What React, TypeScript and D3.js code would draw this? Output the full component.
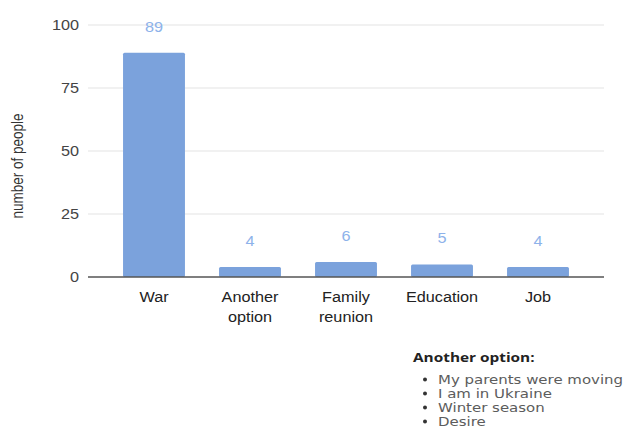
import React from "react";
import * as d3 from "d3";

const categories: string[][] = [["War"], ["Another", "option"], ["Family", "reunion"], ["Education"], ["Job"]];
const values: number[] = [89, 4, 6, 5, 4];
const yTicks: number[] = [0, 25, 50, 75, 100];
const noteTitle = "Another option:";
const noteItems: string[] = ["My parents were moving", "I am in Ukraine", "Winter season", "Desire"];
const yAxisTitle = "number of people";

const W = 625;
const H = 428;
const SX = 1.16;

function T(props: {
  x: number;
  y: number;
  anchor?: "start" | "middle" | "end";
  size: number;
  fill: string;
  sx?: number;
  weight?: number;
  family?: string;
  children: React.ReactNode;
}) {
  const { x, y, anchor = "start", size, fill, sx = SX, weight, family, children } = props;
  return (
    <text
      transform={`translate(${x},${y}) scale(${sx},1)`}
      x={0}
      y={0}
      dy="0.35em"
      textAnchor={anchor}
      fontSize={size}
      fill={fill}
      fontWeight={weight}
      fontFamily={family}
    >
      {children}
    </text>
  );
}

export default function App() {
  const x = d3
    .scaleBand<number>()
    .domain(values.map((_, i) => i))
    .range([106, 586])
    .paddingInner(0.355)
    .paddingOuter(0.1775);
  const y = d3.scaleLinear().domain([0, 100]).range([277, 25]);
  const font = "Arial, 'Liberation Sans', sans-serif";
  const barColor = "#7ba2dc";
  const labelColor = "#8db2ea";
  const noteFont = "'Open Sans', sans-serif";
  const listFont = "'DejaVu Sans', sans-serif";
  const noteY0 = 379.5;
  const noteStep = 14;

  return (
    <svg
      width={W}
      height={H}
      style={{ position: "absolute", left: 0, top: 0, background: "#fff" }}
      fontFamily={font}
    >
      {yTicks.map((t) => (
        <g key={t}>
          {t !== 0 && (
            <line x1={88} x2={604} y1={y(t)} y2={y(t)} stroke="#e3e3e3" strokeWidth={1} />
          )}
          <T x={79} y={y(t)} anchor="end" size={14} fill="#444">
            {t}
          </T>
        </g>
      ))}
      <text
        transform={`translate(18,166) rotate(-90) scale(1,${SX})`}
        textAnchor="middle"
        dy="0.35em"
        fontSize={13.5}
        fill="#333"
      >
        {yAxisTitle}
      </text>
      {values.map((v, i) => {
        const cx = (x(i) as number) + x.bandwidth() / 2;
        return (
          <g key={i}>
            <rect
              x={x(i)}
              y={y(v)}
              width={x.bandwidth()}
              height={y(0) - y(v)}
              fill={barColor}
              rx={1.5}
            />
            <T x={cx} y={y(v) - 26} anchor="middle" size={14} fill={labelColor}>
              {v}
            </T>
            {categories[i].map((line, j) => (
              <T key={j} x={cx} y={297 + j * 20} anchor="middle" size={14} fill="#222">
                {line}
              </T>
            ))}
          </g>
        );
      })}
      <line x1={88} x2={604} y1={y(0)} y2={y(0)} stroke="#555" strokeWidth={1.3} />
      <T x={413} y={358} size={12.5} weight={700} fill="#222" family={noteFont} sx={1.23}>
        {noteTitle}
      </T>
      {noteItems.map((s, i) => (
        <g key={i}>
          <circle cx={425} cy={noteY0 + i * noteStep} r={2} fill="#333" />
          <T x={438} y={noteY0 + i * noteStep} size={11.8} fill="#5c5c5c" family={listFont} sx={1.27}>
            {s}
          </T>
        </g>
      ))}
    </svg>
  );
}
